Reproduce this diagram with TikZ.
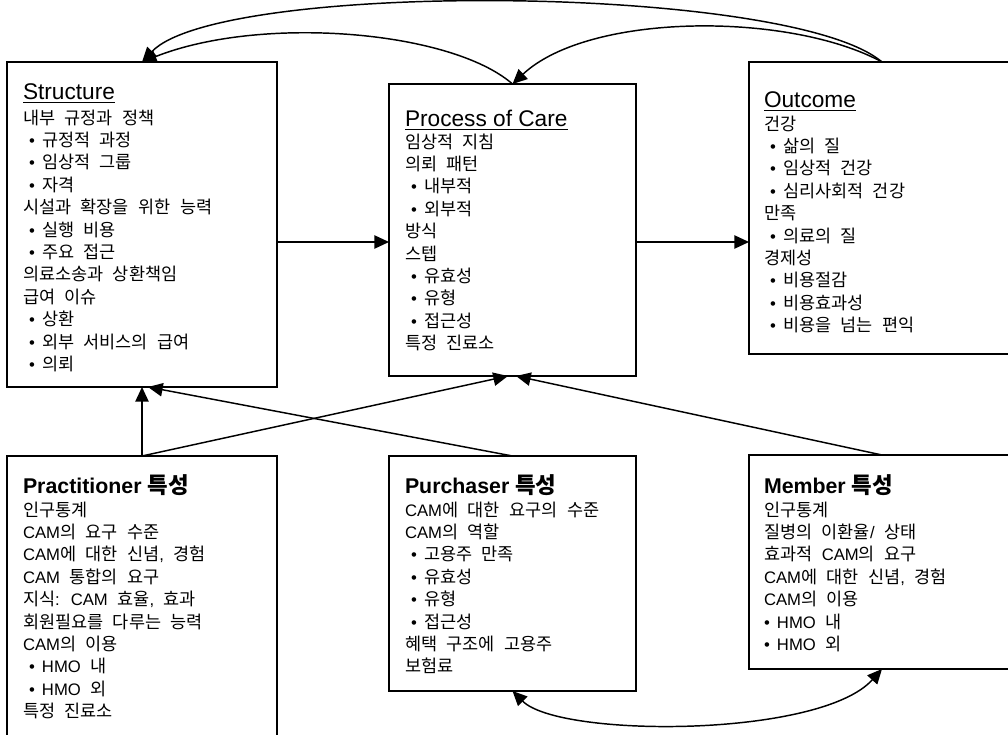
\documentclass[tikz,border=0pt]{standalone}
\usepackage{fontspec}
\setmainfont{Liberation Sans}
\newfontfamily\krfam{Noto Sans CJK KR}[Scale=1.05]
\usetikzlibrary{arrows.meta,fit}

% Hangul syllables switch to the Korean family, everything else to the main font
\XeTeXinterchartokenstate=1
\newXeTeXintercharclass\krclass
\count255="AC00
\loop
  \XeTeXcharclass\count255=\krclass
  \advance\count255 by 1
\ifnum\count255<"D7A4
\repeat
\XeTeXinterchartoks 0 \krclass = {\krfam}
\XeTeXinterchartoks 4095 \krclass = {\krfam}
\XeTeXinterchartoks \krclass 0 = {\rmfamily}
\XeTeXinterchartoks 4095 0 = {\rmfamily}

\newcommand\firststrut{\rule{0pt}{12pt}}
\newcommand\itm{\hspace*{4.5pt}\makebox[9.75pt][l]{\textbullet}}
\newcommand\itmflush{\makebox[9.75pt][l]{\textbullet}}
\newcommand\ulin[1]{\setbox0\hbox{#1}\rlap{\rule[-2.4pt]{\wd0}{1pt}}\box0}
\newcommand\bodyfont{\fontsize{12.5pt}{16.8pt}\selectfont\spaceskip=7.1pt\relax}

\begin{document}
\begin{tikzpicture}[x=0.75pt,y=-0.75pt,
  box/.style={draw=black,line width=1.2pt,inner sep=0pt,outer sep=0pt},
  arr/.style={line width=1.1pt,-{Triangle[length=11pt,width=10pt]}},
  darr/.style={line width=1.1pt,{Triangle[length=11pt,width=10pt]}-{Triangle[length=11pt,width=10pt]}},
  head/.style={anchor=base west,inner sep=0pt,outer sep=0pt,font=\fontsize{16pt}{19pt}\selectfont},
  uhead/.style={head,font=\fontsize{17pt}{20pt}\selectfont},
  body/.style={anchor=north west,inner sep=0pt,outer sep=0pt,align=left,font=\bodyfont}]

\useasboundingbox (0,0) rectangle (1008,735);
\clip (0,0) rectangle (1008,735);

% boxes
\node[box,fit={(7,62) (277,387)}]   (struct) {};
\node[box,fit={(389,84) (636,376)}] (proc)   {};
\node[box,fit={(749,62) (1015,354)}] (outc)  {};
\node[box,fit={(7,456) (277,760)}]  (prac)   {};
\node[box,fit={(389,456) (636,691)}] (purch) {};
\node[box,fit={(749,455) (1015,669)}] (memb) {};

% headings
\node[uhead] (structH) at (23,100)  {\ulin{Structure}};
\node[uhead] (procH)   at (405,127) {\ulin{Process of Care}};
\node[uhead] (outcH)   at (764,108) {\ulin{Outcome}};
\node[head] (pracH)   at (23,493)  {\bfseries Practitioner 특성};
\node[head] (purchH)  at (405,493) {\bfseries Purchaser 특성};
\node[head] (membH)   at (764,493) {\bfseries Member 특성};

% box contents
\node[body] (structT) at (23,108) {\firststrut 내부 규정과 정책\\
\itm 규정적 과정\\
\itm 임상적 그룹\\
\itm 자격\\
시설과 확장을 위한 능력\\
\itm 실행 비용\\
\itm 주요 접근\\
의료소송과 상환책임\\
급여 이슈\\
\itm 상환\\
\itm 외부 서비스의 급여\\
\itm 의뢰};

\node[body] (procT) at (405,132) {\firststrut 임상적 지침\\
의뢰 패턴\\
\itm 내부적\\
\itm 외부적\\
방식\\
스텝\\
\itm 유효성\\
\itm 유형\\
\itm 접근성\\
특정 진료소};

\node[body] (outcT) at (764,114) {\firststrut 건강\\
\itm 삶의 질\\
\itm 임상적 건강\\
\itm 심리사회적 건강\\
만족\\
\itm 의료의 질\\
경제성\\
\itm 비용절감\\
\itm 비용효과성\\
\itm 비용을 넘는 편익};

\node[body] (pracT) at (23,500) {\firststrut 인구통계\\
CAM의 요구 수준\\
CAM에 대한 신념, 경험\\
CAM 통합의 요구\\
지식: CAM 효율, 효과\\
회원필요를 다루는 능력\\
CAM의 이용\\
\itm HMO 내\\
\itm HMO 외\\
특정 진료소};

\node[body] (purchT) at (405,500) {\firststrut CAM에 대한 요구의 수준\\
CAM의 역할\\
\itm 고용주 만족\\
\itm 유효성\\
\itm 유형\\
\itm 접근성\\
혜택 구조에 고용주\\
보험료};

\node[body] (membT) at (764,500) {\firststrut 인구통계\\
질병의 이환율/ 상태\\
효과적 CAM의 요구\\
CAM에 대한 신념, 경험\\
CAM의 이용\\
\itmflush HMO 내\\
\itmflush HMO 외};

% helper coordinates for connector positions
\coordinate (row) at (0,242);
\coordinate (pl) at (508,0);
\coordinate (pr) at (516,0);
\coordinate (sr) at (148,0);

% straight connectors
\draw[arr] (struct.east |- row) -- (proc.west |- row);
\draw[arr] (proc.east |- row) -- (outc.west |- row);
\draw[arr] (prac.north) -- (struct.south);
\draw[arr] (prac.north) -- (proc.south -| pl);
\draw[arr] (purch.north) -- (struct.south -| sr);
\draw[arr] (memb.north) -- (proc.south -| pr);

% curved feedback connectors
\draw[arr] (outc.north) .. controls +(-92,-78) and +(78,-82) .. (struct.north);
\draw[arr] (outc.north) .. controls +(-92,-50) and +(77,-72) .. (proc.north);
\draw[arr] (proc.north) .. controls +(-62,-54) and +(118,-47) .. (struct.north);
\draw[darr] (purch.south) .. controls +(47,47) and +(-62,69) .. (memb.south);
\end{tikzpicture}
\end{document}
